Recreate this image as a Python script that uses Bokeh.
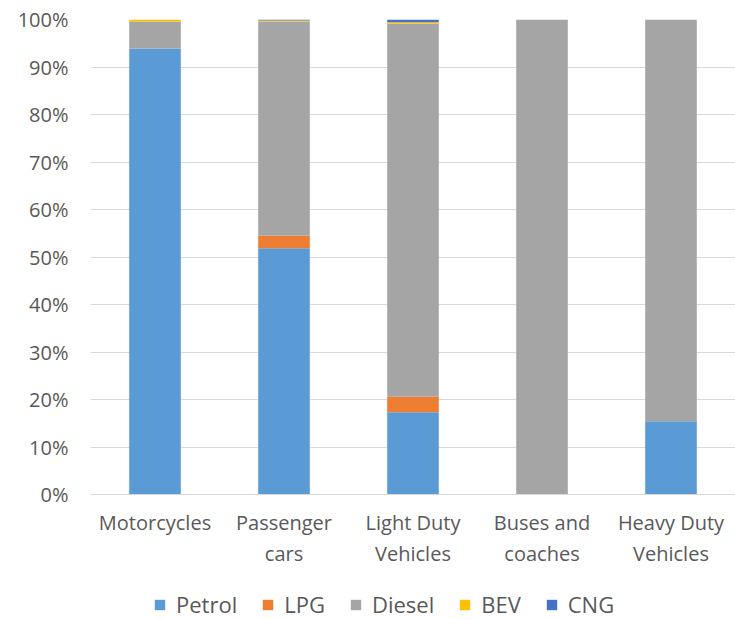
from bokeh.plotting import figure
from bokeh.models import ColumnDataSource, Legend, NumeralTickFormatter, FixedTicker, Range1d
from bokeh.embed import file_html
from bokeh.resources import INLINE

categories = ["Motorcycles", "Passenger\ncars", "Light Duty\nVehicles", "Buses and\ncoaches", "Heavy Duty\nVehicles"]
fuels = ["Petrol", "LPG", "Diesel", "BEV", "CNG"]
petrol = [0.939, 0.5185, 0.173, 0.0, 0.154]
lpg = [0.0, 0.026, 0.033, 0.0, 0.0]
diesel = [0.057, 0.4515, 0.785, 1.0, 0.846]
bev = [0.004, 0.002, 0.003, 0.0, 0.0]
cng = [0.0, 0.002, 0.006, 0.0, 0.0]
colors = ["#5B9BD5", "#ED7D31", "#A5A5A5", "#FFC000", "#4472C4"]
y_ticks = [0, 0.1, 0.2, 0.3, 0.4, 0.5, 0.6, 0.7, 0.8, 0.9, 1.0]

source = ColumnDataSource(dict(cat=categories, Petrol=petrol, LPG=lpg, Diesel=diesel, BEV=bev, CNG=cng))

FONT = "Open Sans"
TXT = "#595959"

# frame: top at 19px, bottom at canvas bottom (619px); 0% sits at 494px
TOP_PX, ZERO_PX, H = 19, 494, 619
y_start = 1.0 - (H - TOP_PX) / (ZERO_PX - TOP_PX)

p = figure(x_range=categories, y_range=Range1d(y_start, 1.0), width=735, height=619,
           output_backend="svg", toolbar_location=None,
           min_border_left=90, min_border_right=0, min_border_top=TOP_PX, min_border_bottom=0)
p.x_range.range_padding = 0
renderers = p.vbar_stack(fuels, x="cat", width=0.4, source=source, color=colors, line_color=None)

p.outline_line_color = None
p.xgrid.grid_line_color = None
p.ygrid.grid_line_color = "#D9D9D9"
p.ygrid.grid_line_width = 1
p.yaxis.ticker = FixedTicker(ticks=y_ticks)
p.yaxis.formatter = NumeralTickFormatter(format="0%")
for ax in (p.xaxis, p.yaxis):
    ax.axis_line_color = None
    ax.major_tick_line_color = None
    ax.minor_tick_line_color = None
    ax.major_tick_out = 0
    ax.major_tick_in = 0
    ax.major_label_text_font = FONT
    ax.major_label_text_font_size = "20px"
    ax.major_label_text_color = TXT
p.xaxis.fixed_location = 0
p.xaxis.axis_line_color = "#D9D9D9"
p.xaxis.major_label_standoff = 14
p.xaxis.major_label_text_line_height = 1.15
p.yaxis.major_label_standoff = 22

legend = Legend(items=[(f, [r]) for f, r in zip(fuels, renderers)], orientation="horizontal",
                location=(63, 0), label_text_font=FONT, label_text_font_size="22px",
                label_text_color=TXT, glyph_width=13, glyph_height=13, label_standoff=10,
                spacing=24, border_line_color=None, background_fill_alpha=0, padding=0, margin=0)
p.add_layout(legend, "center")

open("out.html", "w").write(file_html(p, INLINE))
